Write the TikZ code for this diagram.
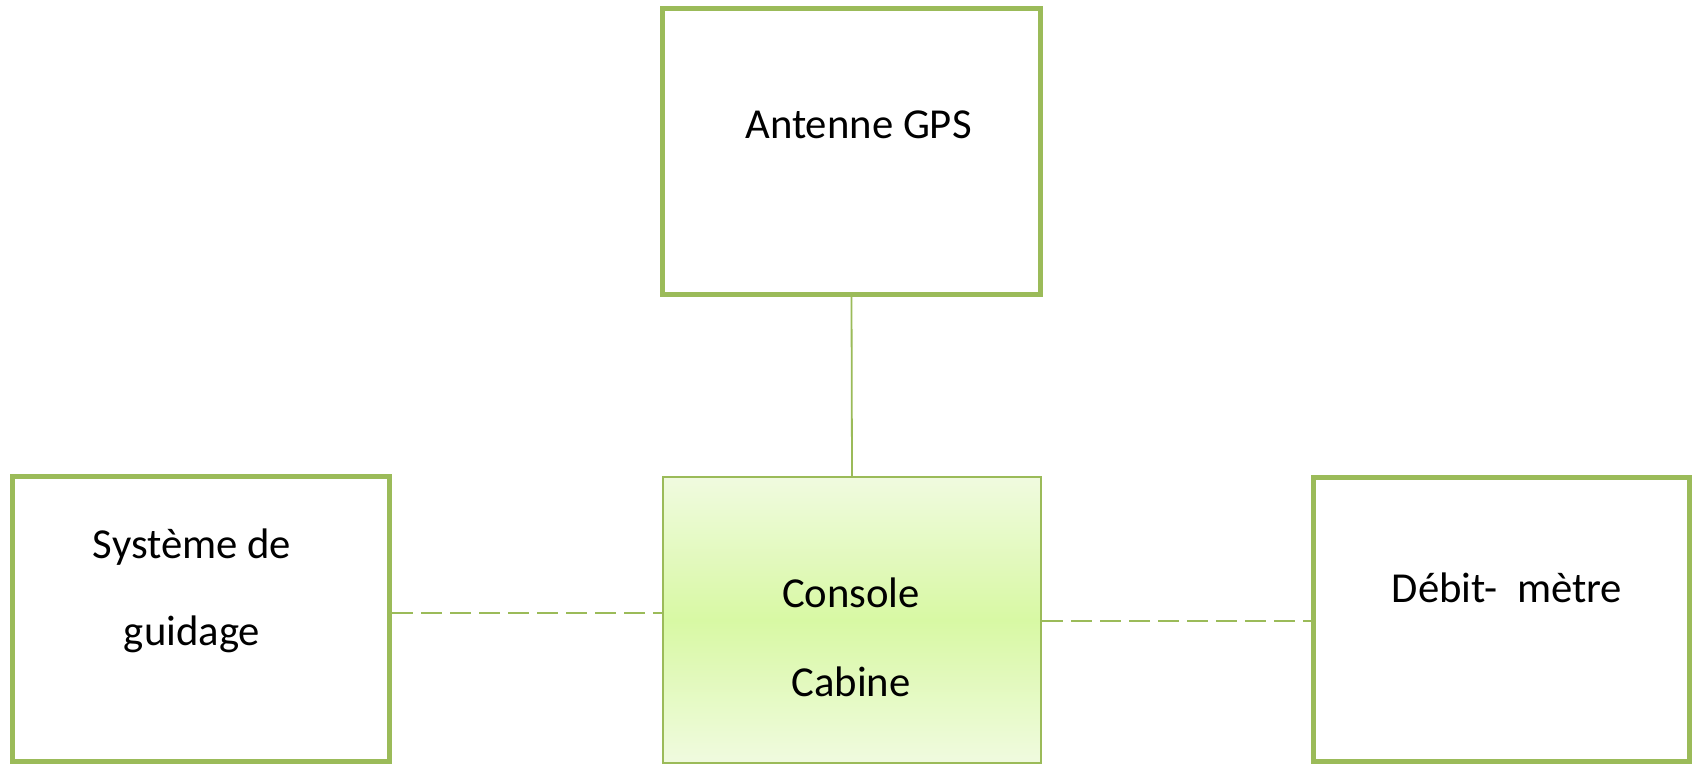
\documentclass[tikz,border=0pt]{standalone}
\usepackage{fontspec}
\setmainfont{Carlito}
\definecolor{olive}{HTML}{9BBB59}
\definecolor{lightg}{HTML}{F0FADF}
\definecolor{midg}{HTML}{D8F9A4}
\tikzset{
  boxthick/.style={draw=olive, line width=5pt, fill=white, rectangle, inner sep=0pt},
  boxconsole/.style={draw=olive, line width=2pt, rectangle, inner sep=0pt, top color=lightg, bottom color=lightg, middle color=midg},
  lbl/.style={anchor=base, inner sep=0pt, font=\fontsize{42.7}{51}\selectfont, text=black},
  solidlink/.style={draw=olive, line width=1.8pt},
  dashlink/.style={draw=olive, line width=2pt, dash pattern=on 21pt off 8pt}
}
\begin{document}
\begin{tikzpicture}[x=1pt,y=-1pt]
\clip (0,0) rectangle (1692,764);
\fill[white] (0,0) rectangle (1692,764);
\node[boxthick, minimum width=378pt, minimum height=286pt] (antenne) at (851.5,151.5) {};
\node[boxthick, minimum width=377pt, minimum height=285pt] (guidage) at (201,619) {};
\node[boxthick, minimum width=376pt, minimum height=284pt] (debit) at (1501,619.5) {};
\node[boxconsole, minimum width=378pt, minimum height=286pt] (console) at (852,620) {};
\coordinate (lrow) at (0,613);
\coordinate (rrow) at (0,621);
\draw[solidlink] (antenne.south) -- (console.north);
\draw[dashlink] (guidage.east |- lrow) -- (console.west |- lrow);
\draw[dashlink] (console.east |- rrow) -- (debit.west |- rrow);
\node[lbl] (tant) at (858.5,138) {Antenne GPS};
\node[lbl] (tsys) at (192,558) {Système de};
\node[lbl] (tgui) at (192,645) {guidage};
\node[lbl] (tcon) at (851,607) {Console};
\node[lbl] (tcab) at (851,696) {Cabine};
\node[lbl] (tdeb) at (1507,602) {Débit-\ \ mètre};
\end{tikzpicture}
\end{document}
